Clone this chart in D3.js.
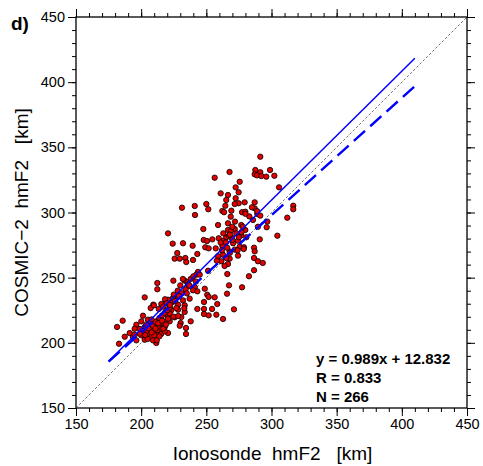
<!DOCTYPE html>
<html>
<head>
<meta charset="utf-8">
<script src="https://cdnjs.cloudflare.com/ajax/libs/d3/7.8.5/d3.min.js"></script>
<style>
  body { margin: 0; background: white; }
  text { font-family: "Liberation Sans", Arial, Helvetica, sans-serif; }
</style>
</head>
<body>
<svg id="chart" width="483" height="466"></svg>
<script>
  // Ionosonde hmF2 (x) vs COSMIC-2 hmF2 (y), km
  let ionoHmF2 = [
    256.4,267.8,261,266.6,265.3,264.6,262.3,263.6,250,251.5,241.1,231.3,241.3,259,266.6,247.7,220.6,266.6,224.2,232.1,
    239.5,248,250.5,254.6,259.5,263,265.3,267.2,249.2,251.8,257.2,262.3,291.4,287.6,291.4,298.9,287.1,288.9,292.2,296,
    302.2,305.8,275.6,272.5,274.8,272.5,274.8,279.4,287.1,271.8,269.2,277.4,279.9,287.1,289.1,291.4,268.7,312.1,296.8,285.8,
    276.8,271.8,279.9,289.6,268.7,273,276.8,280.7,291,304.5,269.2,274.3,270.5,275.6,278.9,286.6,316.7,316.7,296.3,267.9,
    271.8,278.7,287.1,274.3,267.9,286.6,289.6,293.3,286.6,282.7,267.4,277.4,271.2,266.6,266.1,265.9,227.7,225.7,229.6,233.9,
    234.6,239.8,243.1,259,262.8,265.3,261.5,251.3,243.6,242.3,244.9,224.7,233.4,235.4,230,236.5,241.1,239.8,243.1,248.8,
    250.7,251.8,256.4,227.7,228.3,223.7,233.4,248.2,258.4,243.1,248.2,254.4,228.3,233.4,248.2,251.8,257.7,262.8,225.7,221.9,
    230.3,238,229.6,234.4,220.6,220.6,224.4,220.6,212.4,212.4,202.7,209.3,215.5,207.3,213.5,185.8,181.5,201.4,205.2,200.1,
    196.3,199.1,191.2,187.4,183,211.6,234.4,209.8,223.1,221.9,227,232.1,237.2,230.8,195,193.7,196.3,202.7,205.2,207.8,
    210.4,212.9,215.5,216.8,207.8,210.4,212.9,215.5,218.1,219.3,220.6,205.2,207.8,202.7,200.1,212.9,215.5,209.1,218.1,195,
    202.7,218.3,219.6,217,224.7,228.5,233.1,
    204,206,209,211,213,214,216,217,219,208,204,210,212,214,218,220,222,205,201,199,203,208,211,213,216,
    225,228,231,234,236,238,232,226,222,240,229,235,237,242,
    258,262,265,268,270,272,275,263,268,278,283,261,274,280,285,270,266,277,289,264
  ];
  let cosmicHmF2 = [
    326.7,331.1,314.7,313.4,309.6,305.2,301.2,300.2,306.5,302.5,305,303.7,298.1,290.4,291.7,287.3,284,286.6,276.1,276.4,
    274.5,278.9,278.1,279.4,280.2,278.4,281,282,273.3,272.5,272.5,274.5,342.8,332.6,330.9,332.6,329.3,328.5,328,327.5,
    328.2,319.3,323.6,319.3,315.5,310.9,307.1,307.8,307.8,306.5,301.4,300.2,300.6,303.2,298.9,297.6,296.8,296,293,294.3,
    290.4,287.3,286.6,289.1,285.8,284,282.5,281,279.4,282.2,281,278.4,276.4,273.8,273.3,273,305.2,302.5,288.7,270.2,
    271.5,272,270.2,266.9,264.6,265.1,262.6,261.3,255.7,251.1,244.1,242.6,225.7,260.5,252.8,237.7,268.9,264.6,264.6,265.1,
    262,263.6,268.2,266.4,267.6,265.1,262.6,255.3,254.4,252.3,252.3,247.7,247.7,246.4,244.1,243.4,242.6,240.3,239.5,241.5,
    236.9,235.2,234.9,234.9,229.3,231.1,228.8,231.3,229.8,226,226,226,225.4,223.7,222.1,221.1,221.6,218.3,219.6,216.5,
    215.2,216.5,213.1,211.4,207.5,233.1,234.4,220.4,245.9,241.1,234.9,229.3,229.8,226.7,226,217,212.2,220.8,217.8,216.5,
    213.9,210.6,207.5,204.7,199.3,199.9,206.8,228.8,225,222.4,226.7,232.6,233.9,219.8,210.8,204.5,201.9,212.2,213.5,216,
    214.7,217.3,218.5,214.7,210.8,208.3,209.6,210.8,212.2,216,218.5,207,204.5,204.5,205.8,205.8,207,201.9,208.9,206.2,
    202.4,233.4,230.3,227.7,220.1,220.6,226.5,
    209,211,213,216,213,219,221,211,214,218,214,206,202,205,223,225,227,203,209,207,206,208,211,215,217,
    237,240,238,241,245,249,249,232,229,251,236,238,244,247,
    263,271,277,283,289,293,281,284,269,289,297,277,271,299,304,279,273,285,301,259
  ];

  let fitLine = {slope: 0.989, intercept: 12.832, from: 175, to: 410};
  let fitLine2 = {slope: 0.90, intercept: 28, from: 175, to: 410};
  let statLines = ["y = 0.989x + 12.832", "R = 0.833", "N = 266"];
  let majorTicks = [150, 200, 250, 300, 350, 400, 450];

  let svg = d3.select("#chart");
  let margin = {top: 17, right: 16, bottom: 58, left: 76};
  let width = 483, height = 466;

  let x = d3.scaleLinear().domain([150, 450]).range([margin.left, width - margin.right]);
  let y = d3.scaleLinear().domain([150, 450]).range([height - margin.bottom, margin.top]);
  let minorTicks = d3.range(150, 451, 10);

  // axes, ticks pointing outward
  function addAxis(axisFn, scale, transform, labels) {
    let minor = svg.append("g").attr("transform", transform)
      .call(axisFn(scale).tickValues(minorTicks).tickSize(4).tickFormat(""));
    let major = svg.append("g").attr("transform", transform)
      .call(axisFn(scale).tickValues(majorTicks).tickSize(8).tickPadding(3)
        .tickFormat(labels ? d3.format("d") : ""));
    [minor, major].forEach(function(g) {
      g.select(".domain").remove();
      g.selectAll("line").attr("stroke", "#000").attr("stroke-width", 1);
    });
    major.selectAll("text").attr("font-size", 14.5).attr("fill", "#000")
      .style("font-family", '"Liberation Sans", Arial, sans-serif');
    return major;
  }
  addAxis(d3.axisBottom, x, "translate(0," + y(150) + ")", true);
  addAxis(d3.axisTop, x, "translate(0," + y(450) + ")", false);
  addAxis(d3.axisLeft, y, "translate(" + x(150) + ",0)", true);
  addAxis(d3.axisRight, y, "translate(" + x(450) + ",0)", false);

  svg.append("rect")
    .attr("x", x(150)).attr("y", y(450))
    .attr("width", x(450) - x(150)).attr("height", y(150) - y(450))
    .attr("fill", "none").attr("stroke", "#000").attr("stroke-width", 1.3);

  // 1:1 line
  svg.append("line")
    .attr("x1", x(150)).attr("y1", y(150)).attr("x2", x(450)).attr("y2", y(450))
    .attr("stroke", "#333").attr("stroke-width", 0.7).attr("stroke-dasharray", "2.5,2");

  let points = ionoHmF2.map(function(d, i) { return {x: d, y: cosmicHmF2[i]}; });
  svg.selectAll(".dot")
    .data(points)
    .enter()
    .append("circle")
    .attr("class", "dot")
    .attr("cx", function(d) { return x(d.x); })
    .attr("cy", function(d) { return y(d.y); })
    .attr("r", 2.7)
    .attr("fill", "#e50000")
    .attr("stroke", "#000")
    .attr("stroke-width", 0.8);

  function drawFit(f, w, dash) {
    let l = svg.append("line")
      .attr("x1", x(f.from)).attr("y1", y(f.slope * f.from + f.intercept))
      .attr("x2", x(f.to)).attr("y2", y(f.slope * f.to + f.intercept))
      .attr("stroke", "#0000ff").attr("stroke-width", w);
    if (dash) l.attr("stroke-dasharray", dash);
  }
  drawFit(fitLine2, 2.4, "15,7");
  drawFit(fitLine, 1.5, null);

  svg.selectAll(".stat")
    .data(statLines)
    .enter()
    .append("text")
    .attr("class", "stat")
    .attr("x", 316)
    .attr("y", function(d, i) { return 364 + i * 19; })
    .attr("font-size", 15)
    .attr("font-weight", "bold")
    .text(function(d) { return d; });

  svg.append("text")
    .attr("x", (x(150) + x(450)) / 2 + 1)
    .attr("y", 460)
    .attr("text-anchor", "middle")
    .attr("font-size", 19)
    .style("white-space", "pre")
    .text("Ionosonde  hmF2   [km]");

  svg.append("text")
    .attr("transform", "translate(28," + ((y(150) + y(450)) / 2) + ") rotate(-90)")
    .attr("text-anchor", "middle")
    .attr("font-size", 19)
    .style("white-space", "pre")
    .text("COSMIC\u22122  hmF2   [km]");

  svg.append("text")
    .attr("x", 11).attr("y", 30)
    .attr("font-size", 19)
    .attr("font-weight", "bold")
    .text("d)");
</script>
</body>
</html>
